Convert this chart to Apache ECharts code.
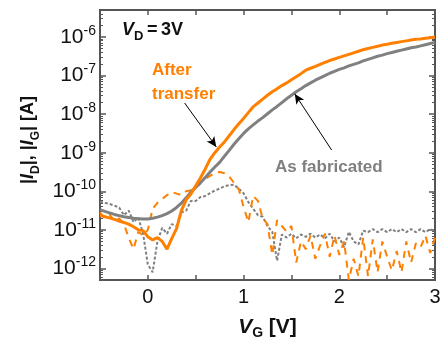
<!DOCTYPE html>
<html>
<head>
<meta charset="utf-8">
<title>Transfer curves</title>
<script src="https://cdn.jsdelivr.net/npm/echarts@6.0.0/dist/echarts.min.js"></script>
<style>
  html, body { margin: 0; padding: 0; background: #fff; }
  #chart { width: 448px; height: 345px; }
</style>
</head>
<body>
<div id="chart"></div>
<script>
// gate voltage V_G [V]
const vg = [
  -0.5, -0.45, -0.4, -0.35, -0.3, -0.25, -0.2, -0.15, -0.1, -0.05,
  0, 0.05, 0.1, 0.15, 0.2, 0.25, 0.3, 0.35, 0.4, 0.45,
  0.5, 0.55, 0.6, 0.65, 0.7, 0.75, 0.8, 0.85, 0.9, 0.95,
  1, 1.05, 1.1, 1.15, 1.2, 1.25, 1.3, 1.35, 1.4, 1.45,
  1.5, 1.55, 1.6, 1.65, 1.7, 1.75, 1.8, 1.85, 1.9, 1.95,
  2, 2.05, 2.1, 2.15, 2.2, 2.25, 2.3, 2.35, 2.4, 2.45,
  2.5, 2.55, 2.6, 2.65, 2.7, 2.75, 2.8, 2.85, 2.9, 2.95,
  3
];

// log10 of the currents in A
const logIdAfter = [
  -10.62, -10.66, -10.69, -10.73, -10.77, -10.81, -10.85, -10.92, -11.0, -11.02,
  -11.18, -11.26, -11.2, -11.3, -11.5, -11.22, -10.97, -10.5, -10.22, -10.07,
  -9.86, -9.65, -9.42, -9.17, -9.0, -8.85, -8.72, -8.56, -8.4, -8.25,
  -8.11, -7.96, -7.81, -7.71, -7.61, -7.51, -7.42, -7.34, -7.26, -7.19,
  -7.11, -7.03, -6.95, -6.86, -6.81, -6.76, -6.71, -6.66, -6.61, -6.57,
  -6.53, -6.49, -6.45, -6.41, -6.37, -6.33, -6.3, -6.27, -6.24, -6.21,
  -6.19, -6.16, -6.14, -6.12, -6.1, -6.08, -6.06, -6.05, -6.03, -6.02,
  -6.0
];
const logIdFab = [
  -10.48, -10.52, -10.56, -10.6, -10.63, -10.66, -10.68, -10.7, -10.71, -10.72,
  -10.72, -10.7, -10.67, -10.63, -10.58, -10.51, -10.42, -10.31, -10.17, -10.02,
  -9.9, -9.78, -9.64, -9.5, -9.37, -9.25, -9.09, -8.94, -8.78, -8.64,
  -8.5, -8.38, -8.28, -8.18, -8.09, -7.99, -7.89, -7.8, -7.7, -7.6,
  -7.51, -7.42, -7.34, -7.26, -7.19, -7.12, -7.06, -7.0, -6.94, -6.89,
  -6.84, -6.8, -6.75, -6.71, -6.67, -6.62, -6.58, -6.54, -6.5, -6.47,
  -6.43, -6.4, -6.37, -6.34, -6.31, -6.28, -6.26, -6.23, -6.2, -6.17,
  -6.14
];
const logIgAfter = [
  -10.55, -10.7, -10.6, -10.78, -10.7, -10.85, -11.2, -11.5, -11.05, -11.15,
  -11.0, -10.45, -10.3, -10.2, -10.1, -10.02, -10.06, -10.1, -10.0, -9.97,
  -9.88, -9.75, -9.68, -9.6, -9.52, -9.5, -9.53, -9.62, -9.78, -9.95,
  -10.4, -10.8, -10.12, -10.25, -10.7, -10.85, -11.65, -10.75, -10.9, -11.05,
  -10.9, -11.85, -11.3, -11.5, -11.15, -11.75, -11.4, -11.1, -11.7, -11.15,
  -11.65, -11.3, -12.3, -11.75, -12.2, -11.2, -12.2, -11.25, -12.1, -11.3,
  -11.7, -12.05, -11.55, -12.1, -11.3, -11.85, -11.35, -11.45, -11.15, -11.6,
  -11.2
];
const logIgFab = [
  -10.27, -10.3, -10.33, -10.37, -10.42, -10.62, -10.5, -10.8, -10.68, -11.1,
  -11.9, -12.1, -11.3, -10.95, -11.1, -10.85, -10.9, -10.55, -10.5, -10.25,
  -10.25, -10.15, -10.12, -10.05, -9.98, -9.93, -9.87, -9.84, -9.83, -9.93,
  -10.05, -10.28, -10.45, -10.62, -10.66, -10.9, -11.05, -11.8, -11.12, -11.2,
  -11.1, -11.22, -11.12, -11.18, -11.1, -11.2, -11.12, -11.22, -11.1, -11.3,
  -11.2, -11.45, -11.05, -11.3, -11.38, -11.02, -11.06, -10.98, -11.06, -10.98,
  -11.06, -10.98, -11.06, -10.98, -11.06, -10.98, -11.06, -10.98, -11.06, -10.98,
  -11.04
];

// annotation arrows: [V_G, log10 I] start -> end
const arrowAfter = [[0.384, -7.71], [0.715, -8.85]];
const arrowFab = [[1.92, -8.93], [1.535, -7.475]];

const ORANGE = "#ff8000";
const GRAY = "#808080";
const FRAME = "#555";
const FONT = "'Liberation Sans', Arial, sans-serif";

const toPairs = (logs) => vg.map((v, i) => [v, Math.pow(10, logs[i])]);
const arrowLine = (a) => [
  { coord: [a[0][0], Math.pow(10, a[0][1])] },
  { coord: [a[1][0], Math.pow(10, a[1][1])] },
];

const chart = echarts.init(document.getElementById("chart"), null, { renderer: "canvas" });

const xCommon = {
  type: "value",
  min: -0.5,
  max: 3,
  interval: 0.5,
  splitLine: { show: false },
  axisLine: { show: true, onZero: false, lineStyle: { color: FRAME, width: 2 } },
  axisTick: { inside: true, length: 5, lineStyle: { color: FRAME, width: 1.5 } },
};
const yCommon = {
  type: "log",
  logBase: 10,
  min: Math.pow(10, -12.3),
  max: Math.pow(10, -5.3),
  splitLine: { show: false },
  axisLine: { show: true, onZero: false, lineStyle: { color: FRAME, width: 2 } },
  axisTick: { inside: true, length: 6, lineStyle: { color: FRAME, width: 1.5 } },
  minorTick: { show: true, splitNumber: 9, length: 3, lineStyle: { color: FRAME, width: 1 } },
};

const option = {
  animation: false,
  backgroundColor: "#fff",
  textStyle: { fontFamily: FONT },
  grid: {
    left: 100, top: 10, width: 335, height: 280, containLabel: false,
    show: true, borderColor: FRAME, borderWidth: 2, backgroundColor: "transparent",
  },
  xAxis: [
    {
      ...xCommon,
      position: "bottom",
      axisLabel: {
        fontSize: 20,
        color: "#111",
        margin: 7,
        formatter: (v) => (Number.isInteger(v) ? String(v) : ""),
      },
      name: "{i|V}{s|G}{n| [V]}",
      nameLocation: "middle",
      nameGap: 34,
      nameTextStyle: {
        rich: {
          i: { fontSize: 21, fontWeight: "bold", fontStyle: "italic", lineHeight: 26, color: "#111" },
          s: { fontSize: 14, fontWeight: "bold", verticalAlign: "bottom", lineHeight: 14, color: "#111" },
          n: { fontSize: 21, fontWeight: "bold", lineHeight: 26, color: "#111" },
        },
      },
    },
    { ...xCommon, position: "top", axisLabel: { show: false } },
  ],
  yAxis: [
    {
      ...yCommon,
      position: "left",
      axisLabel: {
        margin: 4,
        formatter: (v) => {
          const e = Math.log10(v);
          const r = Math.round(e);
          if (Math.abs(e - r) > 1e-6) return "";
          return "{b|10}{s|" + r + "}";
        },
        rich: {
          b: { fontSize: 21, lineHeight: 26, color: "#111" },
          s: { fontSize: 14, lineHeight: 17, verticalAlign: "top", color: "#111" },
        },
      },
      name: "{t||}{i|I}{s|D}{t||, |}{i|I}{s|G}{t|| [A]}",
      nameLocation: "middle",
      nameGap: 46,
      nameTextStyle: {
        padding: [0, 0, 0, 10],
        rich: {
          t: { fontSize: 18, fontWeight: "bold", lineHeight: 26, color: "#111" },
          i: { fontSize: 18, fontWeight: "bold", fontStyle: "italic", lineHeight: 26, color: "#111" },
          s: { fontSize: 12, fontWeight: "bold", verticalAlign: "bottom", lineHeight: 12, color: "#111" },
        },
      },
    },
    { ...yCommon, position: "right", axisLabel: { show: false } },
  ],
  series: [
    {
      name: "I_G as fabricated",
      type: "line",
      data: toPairs(logIgFab),
      showSymbol: false,
      lineStyle: { color: GRAY, width: 2, type: [3, 2] },
    },
    {
      name: "I_G after transfer",
      type: "line",
      data: toPairs(logIgAfter),
      showSymbol: false,
      lineStyle: { color: ORANGE, width: 2, type: [7, 6] },
    },
    {
      name: "I_D as fabricated",
      type: "line",
      data: toPairs(logIdFab),
      showSymbol: false,
      lineStyle: { color: GRAY, width: 3 },
      markLine: {
        silent: true,
        symbol: ["none", "arrow"],
        symbolSize: [7, 10],
        label: { show: false },
        lineStyle: { color: "#000", width: 1, type: "solid" },
        data: [arrowLine(arrowFab)],
      },
    },
    {
      name: "I_D after transfer",
      type: "line",
      data: toPairs(logIdAfter),
      showSymbol: false,
      lineStyle: { color: ORANGE, width: 3 },
      markLine: {
        silent: true,
        symbol: ["none", "arrow"],
        symbolSize: [7, 10],
        label: { show: false },
        lineStyle: { color: "#000", width: 1, type: "solid" },
        data: [arrowLine(arrowAfter)],
      },
    },
  ],
  graphic: [
    {
      type: "text",
      left: 122,
      top: 21,
      style: {
        text: "{i|V}{s|D}{n|\u2009=\u20093V}",
        fill: "#111",
        rich: {
          i: { fontSize: 18, fontWeight: "bold", fontStyle: "italic", lineHeight: 26, fontFamily: FONT },
          s: { fontSize: 13, fontWeight: "bold", verticalAlign: "bottom", lineHeight: 13, fontFamily: FONT },
          n: { fontSize: 18, fontWeight: "bold", lineHeight: 26, fontFamily: FONT },
        },
      },
    },
    {
      type: "text",
      left: 152,
      top: 58,
      style: {
        text: "After\ntransfer",
        fill: ORANGE,
        font: "bold 17px " + FONT,
        lineHeight: 24,
      },
    },
    {
      type: "text",
      left: 275,
      top: 155,
      style: {
        text: "As fabricated",
        fill: GRAY,
        font: "bold 17px " + FONT,
        lineHeight: 24,
      },
    },
  ],
};

chart.setOption(option);
</script>
</body>
</html>
